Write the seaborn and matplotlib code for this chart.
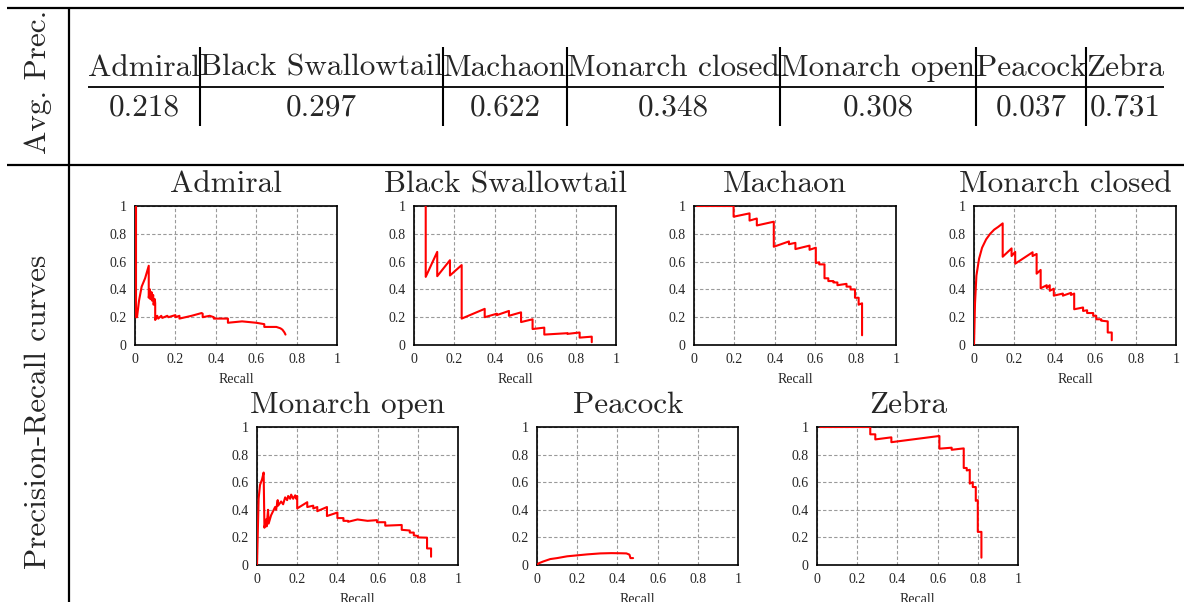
import matplotlib
matplotlib.use("Agg")
import matplotlib.pyplot as plt
import seaborn as sns
import pandas as pd

# ---- summary table ----
species = ["Admiral", "Black Swallowtail", "Machaon", "Monarch closed",
           "Monarch open", "Peacock", "Zebra"]
avg_precision = ["0.218", "0.297", "0.622", "0.348", "0.308", "0.037", "0.731"]

tick_values = [0, 0.2, 0.4, 0.6, 0.8, 1]
tick_labels = ["0", "0.2", "0.4", "0.6", "0.8", "1"]

# ---- precision / recall curves ----
admiral_recall = [0.005, 0.005, 0.01, 0.02, 0.033, 0.05, 0.068, 0.068, 0.074, 0.076, 0.082,
                  0.084, 0.09, 0.092, 0.098, 0.1, 0.1, 0.11, 0.115, 0.13, 0.135, 0.16, 0.165,
                  0.2, 0.2, 0.22, 0.22, 0.28, 0.33, 0.335, 0.335, 0.37, 0.38, 0.39, 0.39,
                  0.46, 0.46, 0.53, 0.6, 0.64, 0.64, 0.70, 0.71, 0.72, 0.73, 0.74, 0.745]
admiral_precision = [1.0, 0.2, 0.2, 0.32, 0.42, 0.48, 0.57, 0.34, 0.40, 0.33, 0.38,
                     0.32, 0.36, 0.29, 0.33, 0.30, 0.18, 0.21, 0.19, 0.21, 0.195, 0.21, 0.2,
                     0.215, 0.2, 0.21, 0.19, 0.21, 0.23, 0.225, 0.2, 0.21, 0.205, 0.2, 0.19,
                     0.19, 0.16, 0.17, 0.16, 0.15, 0.13, 0.13, 0.125, 0.12, 0.11, 0.09, 0.075]

swallowtail_recall = [0.058, 0.058, 0.115, 0.115, 0.178, 0.178, 0.236, 0.236, 0.35, 0.35,
                      0.41, 0.41, 0.47, 0.47, 0.53, 0.53, 0.587, 0.587, 0.645, 0.645,
                      0.76, 0.76, 0.82, 0.82, 0.88, 0.88]
swallowtail_precision = [1.0, 0.49, 0.67, 0.495, 0.61, 0.50, 0.575, 0.19, 0.26, 0.20,
                         0.225, 0.215, 0.245, 0.21, 0.235, 0.165, 0.185, 0.115, 0.125, 0.075,
                         0.085, 0.08, 0.09, 0.053, 0.06, 0.02]

machaon_recall = [0.015, 0.196, 0.196, 0.275, 0.275, 0.311, 0.311, 0.395, 0.395, 0.47, 0.47,
                  0.502, 0.502, 0.572, 0.572, 0.603, 0.603, 0.62, 0.62, 0.646, 0.646, 0.665,
                  0.665, 0.69, 0.69, 0.71, 0.71, 0.755, 0.755, 0.775, 0.775, 0.797, 0.797,
                  0.815, 0.815, 0.832, 0.832]
machaon_precision = [1.0, 1.0, 0.923, 0.947, 0.895, 0.91, 0.86, 0.887, 0.707, 0.745, 0.725,
                     0.735, 0.69, 0.715, 0.685, 0.70, 0.59, 0.595, 0.58, 0.58, 0.48, 0.48,
                     0.46, 0.46, 0.45, 0.45, 0.43, 0.44, 0.42, 0.42, 0.40, 0.40, 0.34,
                     0.34, 0.29, 0.30, 0.07]

monarch_closed_recall = [0.0, 0.005, 0.012, 0.025, 0.04, 0.06, 0.08, 0.10, 0.12, 0.142, 0.142,
                         0.186, 0.186, 0.204, 0.204, 0.29, 0.29, 0.31, 0.31, 0.33, 0.33, 0.36,
                         0.36, 0.375, 0.375, 0.395, 0.395, 0.44, 0.44, 0.48, 0.48, 0.496, 0.496,
                         0.54, 0.54, 0.56, 0.56, 0.59, 0.59, 0.605, 0.605, 0.63, 0.63, 0.662,
                         0.662, 0.682, 0.682]
monarch_closed_precision = [0.0, 0.30, 0.50, 0.62, 0.70, 0.76, 0.80, 0.83, 0.85, 0.875, 0.635,
                            0.695, 0.64, 0.67, 0.585, 0.667, 0.64, 0.655, 0.513, 0.54, 0.408, 0.43,
                            0.41, 0.43, 0.39, 0.405, 0.355, 0.37, 0.355, 0.375, 0.36, 0.37, 0.257,
                            0.27, 0.245, 0.25, 0.23, 0.23, 0.21, 0.21, 0.185, 0.185, 0.175, 0.17,
                            0.09, 0.09, 0.034]

monarch_open_recall = [0.0, 0.008, 0.015, 0.025, 0.033, 0.037, 0.045, 0.048, 0.055, 0.058, 0.07,
                       0.09, 0.095, 0.103, 0.105, 0.12, 0.13, 0.14, 0.15, 0.155, 0.165, 0.17,
                       0.18, 0.19, 0.195, 0.2, 0.2, 0.25, 0.25, 0.28, 0.28, 0.30, 0.30, 0.348,
                       0.348, 0.40, 0.40, 0.43, 0.43, 0.453, 0.453, 0.50, 0.55, 0.597, 0.597,
                       0.638, 0.638, 0.72, 0.72, 0.76, 0.76, 0.78, 0.78, 0.80, 0.80, 0.846,
                       0.846, 0.866, 0.866]
monarch_open_precision = [0.0, 0.48, 0.58, 0.62, 0.67, 0.27, 0.33, 0.28, 0.40, 0.30, 0.36,
                          0.42, 0.40, 0.47, 0.43, 0.46, 0.44, 0.49, 0.47, 0.50, 0.48, 0.51,
                          0.48, 0.505, 0.48, 0.50, 0.41, 0.455, 0.42, 0.43, 0.41, 0.42, 0.39, 0.42,
                          0.355, 0.38, 0.34, 0.34, 0.32, 0.32, 0.313, 0.33, 0.32, 0.325, 0.31,
                          0.31, 0.285, 0.29, 0.255, 0.25, 0.235, 0.235, 0.215, 0.21, 0.2, 0.198,
                          0.12, 0.12, 0.06]

peacock_recall = [0.0, 0.008, 0.03, 0.066, 0.10, 0.15, 0.20, 0.25, 0.315, 0.37, 0.42, 0.445,
                  0.46, 0.465, 0.478]
peacock_precision = [0.0, 0.012, 0.025, 0.043, 0.05, 0.063, 0.07, 0.077, 0.084, 0.086, 0.085,
                     0.084, 0.075, 0.05, 0.05]

zebra_recall = [0.015, 0.265, 0.265, 0.29, 0.29, 0.37, 0.37, 0.609, 0.609, 0.67, 0.67, 0.73,
                0.73, 0.745, 0.745, 0.76, 0.76, 0.775, 0.775, 0.79, 0.79, 0.80, 0.80, 0.818,
                0.818]
zebra_precision = [1.0, 1.0, 0.947, 0.947, 0.91, 0.925, 0.89, 0.935, 0.843, 0.85, 0.835, 0.845,
                   0.703, 0.703, 0.685, 0.69, 0.59, 0.60, 0.565, 0.565, 0.465, 0.47, 0.24, 0.24,
                   0.053]

curves = [
    (admiral_recall, admiral_precision),
    (swallowtail_recall, swallowtail_precision),
    (machaon_recall, machaon_precision),
    (monarch_closed_recall, monarch_closed_precision),
    (monarch_open_recall, monarch_open_precision),
    (peacock_recall, peacock_precision),
    (zebra_recall, zebra_precision),
]

sns.set_style("white")
plt.rcParams["font.family"] = ["Liberation Serif", "DejaVu Serif"]

W, H = 1184, 602
fig = plt.figure(figsize=(W / 100, H / 100), dpi=100)

# Full-figure layer in pixel units for the table rules and row headers
frame = fig.add_axes([0, 0, 1, 1])
frame.set_xlim(0, W)
frame.set_ylim(H, 0)
frame.axis("off")

TEX = "cmr10"
renderer = fig.canvas.get_renderer()


def text_width(s, fs):
    t = frame.text(0, 0, s, fontsize=fs, family=TEX)
    w = t.get_window_extent(renderer).width
    t.remove()
    return w


# Scale the roman font so the header row spans the table width
table_left, table_right = 88, 1164
base_fs = 20
widths = [text_width(s, base_fs) for s in species]
scale = (table_right - table_left) / sum(widths)
fs = base_fs * scale
widths = [w * scale for w in widths]

# Outer rules
frame.plot([7, W], [8, 8], color="black", lw=1.6, solid_capstyle="butt")
frame.plot([7, W], [165, 165], color="black", lw=1.6, solid_capstyle="butt")
frame.plot([69, 69], [8, H], color="black", lw=1.6, solid_capstyle="butt")

# Row headers
frame.text(38, 82, "Avg. Prec.", rotation=90, ha="center", va="center",
           fontsize=fs, family=TEX)
frame.text(38, 412, "Precision-Recall curves", rotation=90, ha="center", va="center",
           fontsize=fs, family=TEX)

# Table body
x = table_left
for i, (name, val, w) in enumerate(zip(species, avg_precision, widths)):
    cx = x + w / 2
    frame.text(cx, 76, name, ha="center", va="baseline", fontsize=fs, family=TEX)
    frame.text(cx, 115, val, ha="center", va="baseline", fontsize=fs, family=TEX)
    x += w
    if i < len(species) - 1:
        frame.plot([x, x], [47, 126], color="black", lw=1.5, solid_capstyle="butt")
frame.plot([table_left, table_right], [87, 87], color="black", lw=1.3,
           solid_capstyle="butt")

# Panel boxes in pixels: (left, top, width, height)
panels = [
    (135, 206, 202, 139), (414, 206, 202, 139), (694, 206, 202, 139), (974, 206, 202, 139),
    (257, 427, 201, 138), (537, 427, 201, 138), (817, 427, 201, 138),
]

for name, (rec, prec), (left, top, pw, ph) in zip(species, curves, panels):
    ax = fig.add_axes([left / W, (H - top - ph) / H, pw / W, ph / H])
    df = pd.DataFrame({"Recall": rec, "Precision": prec})
    sns.lineplot(data=df, x="Recall", y="Precision", sort=False, estimator=None,
                 color="#ff0000", lw=1.5, ax=ax, zorder=3)
    ax.set_xlim(0, 1)
    ax.set_ylim(0, 1)
    ax.set_xticks(tick_values, tick_labels)
    ax.set_yticks(tick_values, tick_labels)
    ax.tick_params(length=0, labelsize=10, pad=6)
    ax.grid(True, color="#9a9a9a", linestyle=(0, (3, 2)), linewidth=0.8)
    ax.set_axisbelow(True)
    for s in ax.spines.values():
        s.set_visible(True)
        s.set_color("black")
        s.set_linewidth(1.2)
    ax.set_xlabel("Recall", fontsize=10, labelpad=5)
    ax.set_ylabel("")
    ax.annotate(name, xy=(0.5, 1), xycoords="axes fraction", xytext=(-7, 10),
                textcoords="offset points", ha="center", va="baseline",
                fontsize=fs, family=TEX)

fig.savefig("out.png", dpi=100)
